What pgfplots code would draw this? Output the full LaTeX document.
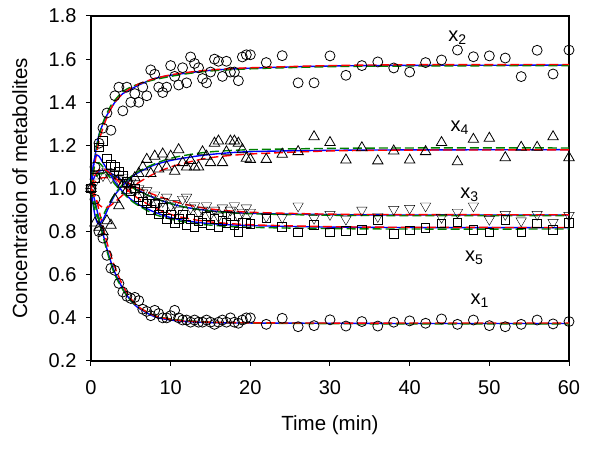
\documentclass[border=0pt]{standalone}
\usepackage{fontspec}
\setmainfont{Liberation Sans}
\usepackage{pgfplots}
\usepackage{pgfplotstable}
\pgfplotsset{compat=1.18}
\definecolor{dgreen}{RGB}{0,128,0}

\pgfplotstableread{
t x1 x2 x3 x4 x5
0 1.00 1.00 1.00 1.00 1.00
0.5 0.95 1.10 1.03 0.84 1.05
1.0 0.80 1.21 1.07 0.82 1.19
1.5 0.77 1.28 1.06 0.80 1.22
2.0 0.69 1.35 1.08 0.85 1.14
2.5 0.63 1.27 1.05 0.83 1.11
3.0 0.62 1.43 1.07 0.95 1.10
3.5 0.56 1.47 1.04 0.92 1.08
4.0 0.52 1.36 1.05 1.02 1.06
4.5 0.50 1.47 1.02 0.99 1.03
5.0 0.49 1.40 1.03 1.02 0.99
5.5 0.495 1.44 0.99 1.05 1.00
6.0 0.48 1.40 1.00 1.07 0.96
6.5 0.44 1.47 0.98 1.10 0.94
7.0 0.43 1.43 0.99 1.135 0.93
7.5 0.41 1.55 0.95 1.07 0.90
8.0 0.435 1.53 0.97 1.15 0.93
8.5 0.42 1.47 0.93 1.09 0.88
9.0 0.40 1.445 0.94 1.16 0.91
9.5 0.40 1.47 0.96 1.10 0.86
10.0 0.41 1.57 0.92 1.15 0.88
10.5 0.435 1.52 0.93 1.08 0.84
11.0 0.40 1.48 0.90 1.18 0.86
11.5 0.39 1.56 0.95 1.12 0.88
12.0 0.39 1.49 0.96 1.10 0.83
12.5 0.38 1.61 0.91 1.13 0.86
13.0 0.39 1.58 0.92 1.10 0.82
13.5 0.38 1.56 0.89 1.10 0.85
14.0 0.38 1.51 0.90 1.17 0.84
14.5 0.39 1.49 0.92 1.15 0.87
15.0 0.38 1.54 0.88 1.12 0.83
15.5 0.37 1.60 0.90 1.21 0.86
16.0 0.38 1.59 0.87 1.22 0.82
16.5 0.39 1.52 0.91 1.12 0.85
17.0 0.38 1.59 0.88 1.17 0.84
17.5 0.40 1.54 0.90 1.22 0.87
18.0 0.38 1.54 0.92 1.22 0.83
18.5 0.375 1.50 0.87 1.21 0.80
19.0 0.39 1.61 0.89 1.18 0.84
19.5 0.40 1.62 0.91 1.14 0.84
20 0.40 1.62 0.89 1.135 0.837
22 0.37 1.584 0.87 1.135 0.862
24 0.398 1.616 0.866 1.159 0.823
26 0.359 1.49 0.919 1.171 0.797
28 0.364 1.49 0.862 1.24 0.831
30 0.391 1.615 0.88 1.213 0.797
32 0.362 1.525 0.858 1.132 0.804
34 0.383 1.57 0.90 1.189 0.808
36 0.362 1.587 0.87 1.128 0.854
38 0.38 1.559 0.903 1.174 0.789
40 0.386 1.54 0.908 1.132 0.806
42 0.375 1.584 0.919 1.171 0.818
44 0.395 1.596 0.866 1.213 0.838
46 0.37 1.642 0.89 1.124 0.843
48 0.39 1.611 0.919 1.228 0.808
50 0.364 1.615 0.857 1.233 0.797
52 0.359 1.605 0.88 1.143 0.854
54 0.37 1.519 0.85 1.191 0.797
56 0.39 1.641 0.88 1.191 0.838
58 0.372 1.531 0.843 1.24 0.808
60 0.383 1.642 0.875 1.143 0.84
}\pts

\pgfplotstableread{
t b1 r1 g1 b2 r2 g2 b3 r3 g3 b4 r4 g4 b5 r5 g5
0 1.0 1.0 1.0 1.0 1.0 1.0 1.0 1.0 1.0 1.0 1.0 1.0 1.0 1.0 1.0
0.25 0.975 0.99 0.97 1.08 1.06 1.07 1.035 1.017 1.028 0.93 0.975 0.94 1.10 1.035 1.075
0.5 0.94 0.97 0.93 1.15 1.12 1.14 1.06 1.03 1.048 0.875 0.955 0.895 1.145 1.06 1.105
0.75 0.90 0.94 0.89 1.205 1.17 1.20 1.073 1.039 1.06 0.845 0.938 0.87 1.155 1.077 1.118
1 0.86 0.90 0.85 1.25 1.22 1.245 1.08 1.045 1.066 0.835 0.925 0.86 1.15 1.086 1.12
1.5 0.79 0.82 0.78 1.30 1.28 1.305 1.085 1.05 1.07 0.855 0.912 0.875 1.12 1.09 1.10
2 0.72 0.75 0.71 1.34 1.33 1.35 1.08 1.05 1.067 0.895 0.912 0.91 1.09 1.082 1.07
2.5 0.66 0.69 0.65 1.37 1.37 1.385 1.07 1.048 1.06 0.935 0.922 0.945 1.06 1.067 1.045
3 0.61 0.635 0.60 1.40 1.40 1.41 1.06 1.045 1.052 0.97 0.937 0.975 1.03 1.05 1.02
4 0.535 0.55 0.53 1.44 1.44 1.45 1.035 1.035 1.03 1.015 0.97 1.02 0.985 1.012 0.98
5 0.48 0.49 0.48 1.46 1.465 1.47 1.01 1.02 1.008 1.05 1.0 1.055 0.95 0.98 0.945
6 0.445 0.45 0.448 1.48 1.485 1.485 0.99 1.0 0.988 1.075 1.028 1.08 0.925 0.952 0.92
8 0.405 0.41 0.41 1.51 1.51 1.505 0.955 0.97 0.955 1.11 1.07 1.115 0.89 0.91 0.88
10 0.39 0.393 0.395 1.525 1.527 1.52 0.93 0.945 0.93 1.13 1.10 1.14 0.865 0.88 0.858
12 0.383 0.385 0.387 1.535 1.538 1.532 0.912 0.925 0.912 1.143 1.12 1.155 0.85 0.862 0.843
15 0.378 0.38 0.38 1.548 1.55 1.545 0.897 0.905 0.895 1.158 1.143 1.17 0.837 0.845 0.83
20 0.376 0.377 0.376 1.558 1.56 1.555 0.885 0.89 0.883 1.171 1.16 1.18 0.828 0.832 0.82
30 0.375 0.376 0.373 1.568 1.57 1.565 0.879 0.881 0.876 1.177 1.174 1.186 0.821 0.823 0.814
40 0.374 0.376 0.372 1.571 1.574 1.568 0.877 0.879 0.874 1.179 1.178 1.188 0.819 0.82 0.812
60 0.374 0.376 0.372 1.572 1.575 1.57 0.877 0.878 0.874 1.18 1.179 1.188 0.818 0.819 0.812
}\fits

\begin{document}
\begin{tikzpicture}
\begin{axis}[
  at={(0,0)}, anchor=south west,
  scale only axis, width=478pt, height=345pt,
  xmin=0, xmax=60, ymin=0.2, ymax=1.8,
  xtick={0,10,20,30,40,50,60},
  ytick={0.2,0.4,0.6,0.8,1.0,1.2,1.4,1.6,1.8},
  tick align=outside, tick pos=left,
  major tick length=5pt,
  every tick/.style={black, line width=1pt},
  axis line style={line width=1.2pt},
  /pgf/number format/assume math mode=true,
  yticklabel style={/pgf/number format/fixed,/pgf/number format/precision=1,/pgf/number format/fixed zerofill, xshift=-6pt},
  xticklabel style={yshift=-11pt},
  tick label style={font=\fontsize{20}{24}\selectfont},
  xlabel={Time (min)}, ylabel={Concentration of metabolites},
  every axis x label/.style={at={(axis description cs:0.5,-0.185)}, anchor=center, font=\fontsize{20.5}{24}\selectfont},
  every axis y label/.style={at={(axis description cs:-0.149,0.5)}, anchor=center, rotate=90, font=\fontsize{20.5}{24}\selectfont},
  mk/.style={only marks, black, mark options={line width=0.8pt, fill=none}},
]
% data points
\addplot[mk, mark=o, mark size=5pt] table[x=t, y=x1] {\pts};
\addplot[mk, mark=o, mark size=5pt] table[x=t, y=x2] {\pts};
\addplot[mk, mark=triangle, mark size=6pt, mark options={rotate=180}] table[x=t, y=x3] {\pts};
\addplot[mk, mark=triangle, mark size=6pt] table[x=t, y=x4] {\pts};
\addplot[mk, mark=square, mark size=4.3pt] table[x=t, y=x5] {\pts};
% fitted curves
\foreach \k in {1,...,5}{
  \addplot[blue, line width=1.4pt, smooth] table[x=t, y=b\k] {\fits};
  \addplot[dgreen, line width=1.4pt, smooth, dash pattern=on 9pt off 4pt] table[x=t, y=g\k] {\fits};
  \addplot[red, line width=1.4pt, smooth, dash pattern=on 9pt off 4pt] table[x=t, y=r\k] {\fits};
}
\node[font=\fontsize{20}{24}\selectfont] at (axis cs:46,1.70) {x\textsubscript{2}};
\node[font=\fontsize{20}{24}\selectfont] at (axis cs:46.3,1.28) {x\textsubscript{4}};
\node[font=\fontsize{20}{24}\selectfont] at (axis cs:47.5,0.97) {x\textsubscript{3}};
\node[font=\fontsize{20}{24}\selectfont] at (axis cs:48.1,0.68) {x\textsubscript{5}};
\node[font=\fontsize{20}{24}\selectfont] at (axis cs:48.8,0.48) {x\textsubscript{1}};
\end{axis}
\pgfresetboundingbox
\path (-91pt,-88pt) rectangle (509pt,361pt);
\end{tikzpicture}
\end{document}
